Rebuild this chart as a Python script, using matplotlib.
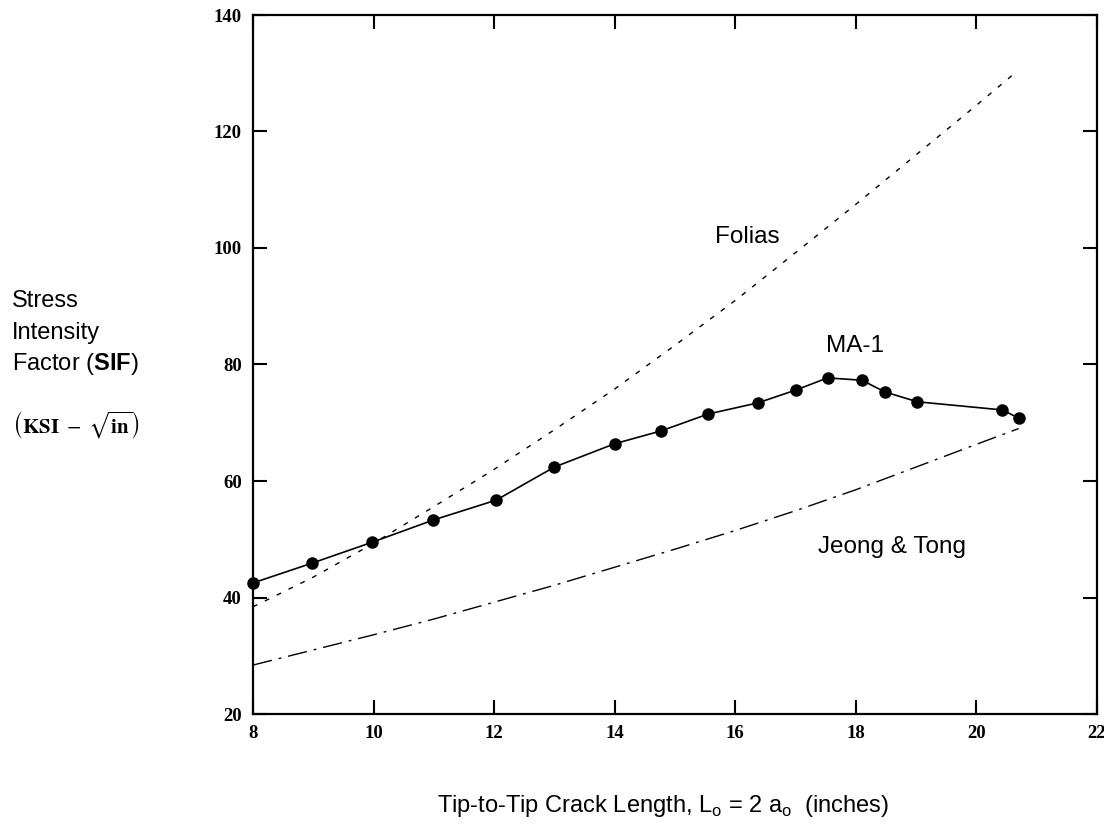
import matplotlib
matplotlib.use("Agg")
import matplotlib.pyplot as plt

# MA-1 results
ma1_x = [8.0, 8.98, 9.98, 10.99, 12.03, 13.0, 14.0, 14.77, 15.55, 16.37,
         17.0, 17.53, 18.1, 18.48, 19.02, 20.43, 20.7]
ma1_y = [42.5, 45.9, 49.5, 53.3, 56.7, 62.4, 66.4, 68.6, 71.5, 73.4,
         75.6, 77.7, 77.3, 75.3, 73.6, 72.2, 70.8]

# Folias solution
folias_x = [8, 9, 10, 11, 12, 13, 14, 15, 16, 17, 18, 19, 20, 20.6]
folias_y = [38.4, 43.5, 49.3, 55.6, 62.0, 68.8, 75.8, 83.3, 91.0, 99.2,
            107.5, 116.0, 124.5, 129.7]

# Jeong & Tong solution
jt_x = [8, 9, 10, 11, 12, 13, 14, 15, 16, 17, 18, 19, 20, 20.7]
jt_y = [28.4, 31.0, 33.6, 36.3, 39.2, 42.1, 45.2, 48.3, 51.5, 54.9,
        58.5, 62.4, 66.3, 69.0]

x_ticks = [8, 10, 12, 14, 16, 18, 20, 22]
y_ticks = [20, 40, 60, 80, 100, 120, 140]

plt.rcParams["font.family"] = "Liberation Sans"
plt.rcParams["mathtext.fontset"] = "custom"
plt.rcParams["mathtext.rm"] = "Liberation Sans"
plt.rcParams["mathtext.bf"] = "Liberation Sans:bold"

fig = plt.figure(figsize=(11.04, 8.30), dpi=100)
ax = fig.add_axes([253 / 1104, 1 - 714 / 830, 844 / 1104, 699 / 830])

ax.plot(folias_x, folias_y, color="black", lw=1.0, linestyle=(0, (3.5, 6)))
ax.plot(jt_x, jt_y, color="black", lw=1.0, linestyle=(0, (14, 5, 2, 5)))
ax.plot(ma1_x, ma1_y, color="black", lw=1.2, marker="o", markersize=8,
        clip_on=False)

ax.set_xlim(8, 22)
ax.set_ylim(20, 140)
ax.set_xticks(x_ticks)
ax.set_yticks(y_ticks)
ax.tick_params(direction="in", length=10, width=1.5, top=True, right=True,
               pad=8)
for lab in ax.get_xticklabels() + ax.get_yticklabels():
    lab.set_fontfamily("Liberation Serif")
    lab.set_fontweight("bold")
    lab.set_fontsize(13.5)
for sp in ax.spines.values():
    sp.set_linewidth(1.6)

ax.text(16.2, 101.9, "Folias", fontsize=17.5, ha="center", va="center")
ax.text(17.99, 83.2, "MA-1", fontsize=17.5, ha="center", va="center")
ax.text(18.6, 48.7, "Jeong & Tong", fontsize=17.5, ha="center", va="center")

fig.text(663 / 1104, 1 - 812 / 830,
         r"Tip-to-Tip Crack Length, L$_\mathrm{o}$ = 2 a$_\mathrm{o}$  (inches)",
         fontsize=17, ha="center", va="baseline")

fig.text(12 / 1104, 1 - 307 / 830, "Stress", fontsize=17, va="baseline")
fig.text(12 / 1104, 1 - 339 / 830, "Intensity", fontsize=17, va="baseline")
fig.text(12 / 1104, 1 - 370 / 830, r"Factor ($\mathbf{SIF}$)", fontsize=17,
         va="baseline")
fig.text(12 / 1104, 1 - 425 / 830,
         r"$\left(\mathbf{KSI}\ -\ \sqrt{\mathbf{in}}\right)$",
         fontsize=15, va="center", math_fontfamily="stix")

fig.savefig("out.png", dpi=100)
